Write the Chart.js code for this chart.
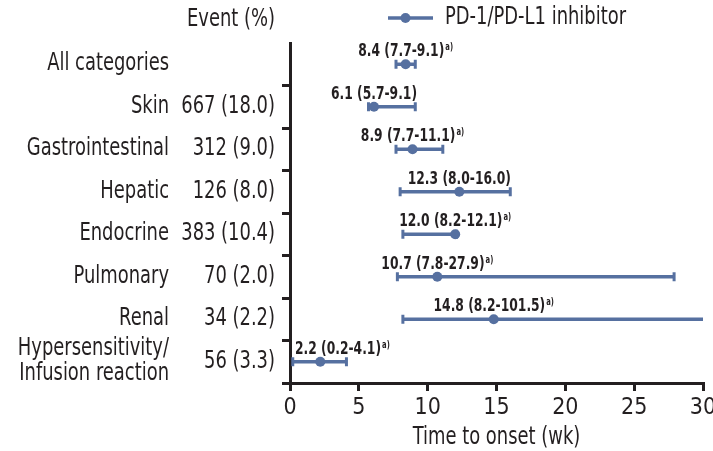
<!DOCTYPE html>
<html>
<head>
<meta charset="utf-8">
<script src="https://cdn.jsdelivr.net/npm/chart.js@4/dist/chart.umd.min.js"></script>
<style>
  html, body { margin: 0; padding: 0; background: #ffffff; }
  #wrap { width: 713px; height: 451px; position: relative; }
</style>
</head>
<body>
<div id="wrap"><canvas id="c" width="713" height="451"></canvas></div>
<script>
// ---- Data ----
const categories = ['All categories', 'Skin', 'Gastrointestinal', 'Hepatic', 'Endocrine', 'Pulmonary', 'Renal', 'Hypersensitivity/\nInfusion reaction'];
const events = ['', '667 (18.0)', '312 (9.0)', '126 (8.0)', '383 (10.4)', '70 (2.0)', '34 (2.2)', '56 (3.3)'];
const medianWeeks = [8.4, 6.1, 8.9, 12.3, 12.0, 10.7, 14.8, 2.2];
const lowerCI = [7.7, 5.7, 7.7, 8.0, 8.2, 7.8, 8.2, 0.2];
const upperCI = [9.1, 9.1, 11.1, 16.0, 12.1, 27.9, 101.5, 4.1];
const footnoteMark = [true, false, true, false, true, true, true, true];
const xTickValues = [0, 5, 10, 15, 20, 25, 30];
const seriesName = 'PD-1/PD-L1 inhibitor';
const eventHeader = 'Event (%)';
const xTitle = 'Time to onset (wk)';

// ---- Styles ----
const FONT = "'Liberation Sans Narrow', 'DejaVu Sans Condensed', 'Roboto', sans-serif";
const TEXT = '#231f20';
const SERIES = '#5670a0';
const SX = 0.83;      // horizontal condensing of regular text
const SX_B = 0.76;    // horizontal condensing of bold annotations
Chart.defaults.font.family = FONT;
Chart.defaults.color = TEXT;

const points = medianWeeks.map((m, i) => ({ x: m, y: categories[i] }));

function fillScaled(ctx, text, x, y, align, sx) {
  ctx.save();
  ctx.translate(x, y);
  ctx.scale(sx, 1);
  ctx.textAlign = align;
  ctx.fillText(text, 0, 0);
  ctx.restore();
}

const forestPlugin = {
  id: 'forest',
  beforeDatasetsDraw(chart) {
    const { ctx, scales: { x, y } } = chart;
    ctx.save();
    ctx.strokeStyle = SERIES;
    ctx.lineCap = 'butt';
    for (let i = 0; i < categories.length; i++) {
      const py = y.getPixelForValue(i);
      const lo = Math.max(lowerCI[i], x.min), hi = Math.min(upperCI[i], x.max);
      const x1 = x.getPixelForValue(lo), x2 = x.getPixelForValue(hi);
      ctx.lineWidth = 3.5;
      ctx.beginPath(); ctx.moveTo(x1, py); ctx.lineTo(x2, py); ctx.stroke();
      ctx.lineWidth = 3;
      if (lowerCI[i] >= x.min) { ctx.beginPath(); ctx.moveTo(x1, py - 4.5); ctx.lineTo(x1, py + 4.5); ctx.stroke(); }
      if (upperCI[i] <= x.max) { ctx.beginPath(); ctx.moveTo(x2, py - 4.5); ctx.lineTo(x2, py + 4.5); ctx.stroke(); }
    }
    ctx.restore();
  },
  afterDatasetsDraw(chart) {
    const { ctx, chartArea, scales: { x, y } } = chart;
    ctx.save();
    ctx.fillStyle = TEXT;
    ctx.textBaseline = 'alphabetic';
    // annotations above each interval
    for (let i = 0; i < categories.length; i++) {
      const py = y.getPixelForValue(i);
      const main = `${medianWeeks[i].toFixed(1)} (${lowerCI[i].toFixed(1)}-${upperCI[i].toFixed(1)})`;
      ctx.font = `bold 18px ${FONT}`;
      const w1 = ctx.measureText(main).width * SX_B;
      ctx.font = `bold 10px ${FONT}`;
      const w2 = footnoteMark[i] ? ctx.measureText('a)').width * SX_B + 1 : 0;
      let left = x.getPixelForValue(medianWeeks[i]) - (w1 + w2) / 2;
      left = Math.max(left, chartArea.left + 5);
      const base = py - 8;
      ctx.font = `bold 18px ${FONT}`;
      fillScaled(ctx, main, left, base, 'left', SX_B);
      if (footnoteMark[i]) {
        ctx.font = `bold 10px ${FONT}`;
        fillScaled(ctx, 'a)', left + w1 + 1, base - 6, 'left', SX_B);
      }
    }
    // left label columns
    const nameRight = chartArea.left - 121;
    const eventRight = chartArea.left - 15;
    ctx.font = `24px ${FONT}`;
    ctx.textBaseline = 'middle';
    for (let i = 0; i < categories.length; i++) {
      const py = y.getPixelForValue(i);
      const lines = categories[i].split('\n');
      const lh = 25;
      lines.forEach((ln, k) => {
        fillScaled(ctx, ln, nameRight, py + (k - (lines.length - 1) / 2) * lh, 'right', SX);
      });
      if (events[i]) fillScaled(ctx, events[i], eventRight, py, 'right', SX);
    }
    fillScaled(ctx, eventHeader, eventRight, 20, 'right', SX);
    // legend
    const lx1 = chartArea.left + 98, lx2 = chartArea.left + 143, ly = 18;
    ctx.strokeStyle = SERIES; ctx.fillStyle = SERIES; ctx.lineWidth = 3.5;
    ctx.beginPath(); ctx.moveTo(lx1, ly); ctx.lineTo(lx2, ly); ctx.stroke();
    ctx.beginPath(); ctx.arc((lx1 + lx2) / 2 - 5, ly, 5, 0, Math.PI * 2); ctx.fill();
    ctx.fillStyle = TEXT;
    ctx.font = `24px ${FONT}`;
    fillScaled(ctx, seriesName, lx2 + 12, ly, 'left', SX);
    // x-axis title
    ctx.font = `24px ${FONT}`;
    fillScaled(ctx, xTitle, (chartArea.left + chartArea.right) / 2, 438, 'center', SX);
    ctx.restore();
  }
};

new Chart(document.getElementById('c'), {
  type: 'scatter',
  data: {
    datasets: [{
      label: seriesName,
      data: points,
      backgroundColor: SERIES,
      borderColor: SERIES,
      borderWidth: 0,
      pointRadius: 5,
      pointHoverRadius: 5
    }]
  },
  options: {
    responsive: false,
    animation: false,
    events: [],
    layout: { padding: { top: 43, right: 10, left: 0, bottom: 0 } },
    plugins: { legend: { display: false }, tooltip: { enabled: false } },
    scales: {
      x: {
        type: 'linear',
        min: 0, max: 30,
        afterBuildTicks(scale) { scale.ticks = xTickValues.map(v => ({ value: v })); },
        afterFit(scale) { scale.height = 68; scale.paddingLeft = 0; scale.paddingRight = 0; },
        border: { display: true, width: 3, color: TEXT },
        grid: { drawOnChartArea: false, drawTicks: true, tickLength: 8, lineWidth: 3, color: TEXT },
        ticks: { font: { size: 23 }, color: TEXT, padding: 3, maxRotation: 0, autoSkip: false },
        title: { display: false }
      },
      y: {
        type: 'category',
        labels: categories,
        offset: true,
        afterFit(scale) { scale.width = 290; },
        border: { display: true, width: 3, color: TEXT },
        grid: {
          offset: true,
          drawOnChartArea: false,
          drawTicks: true,
          tickLength: 8,
          lineWidth: 3,
          color: (ctx) => (ctx.index === 0 || ctx.index >= categories.length) ? 'rgba(0,0,0,0)' : TEXT
        },
        ticks: { display: false }
      }
    }
  },
  plugins: [forestPlugin]
});
</script>
</body>
</html>
